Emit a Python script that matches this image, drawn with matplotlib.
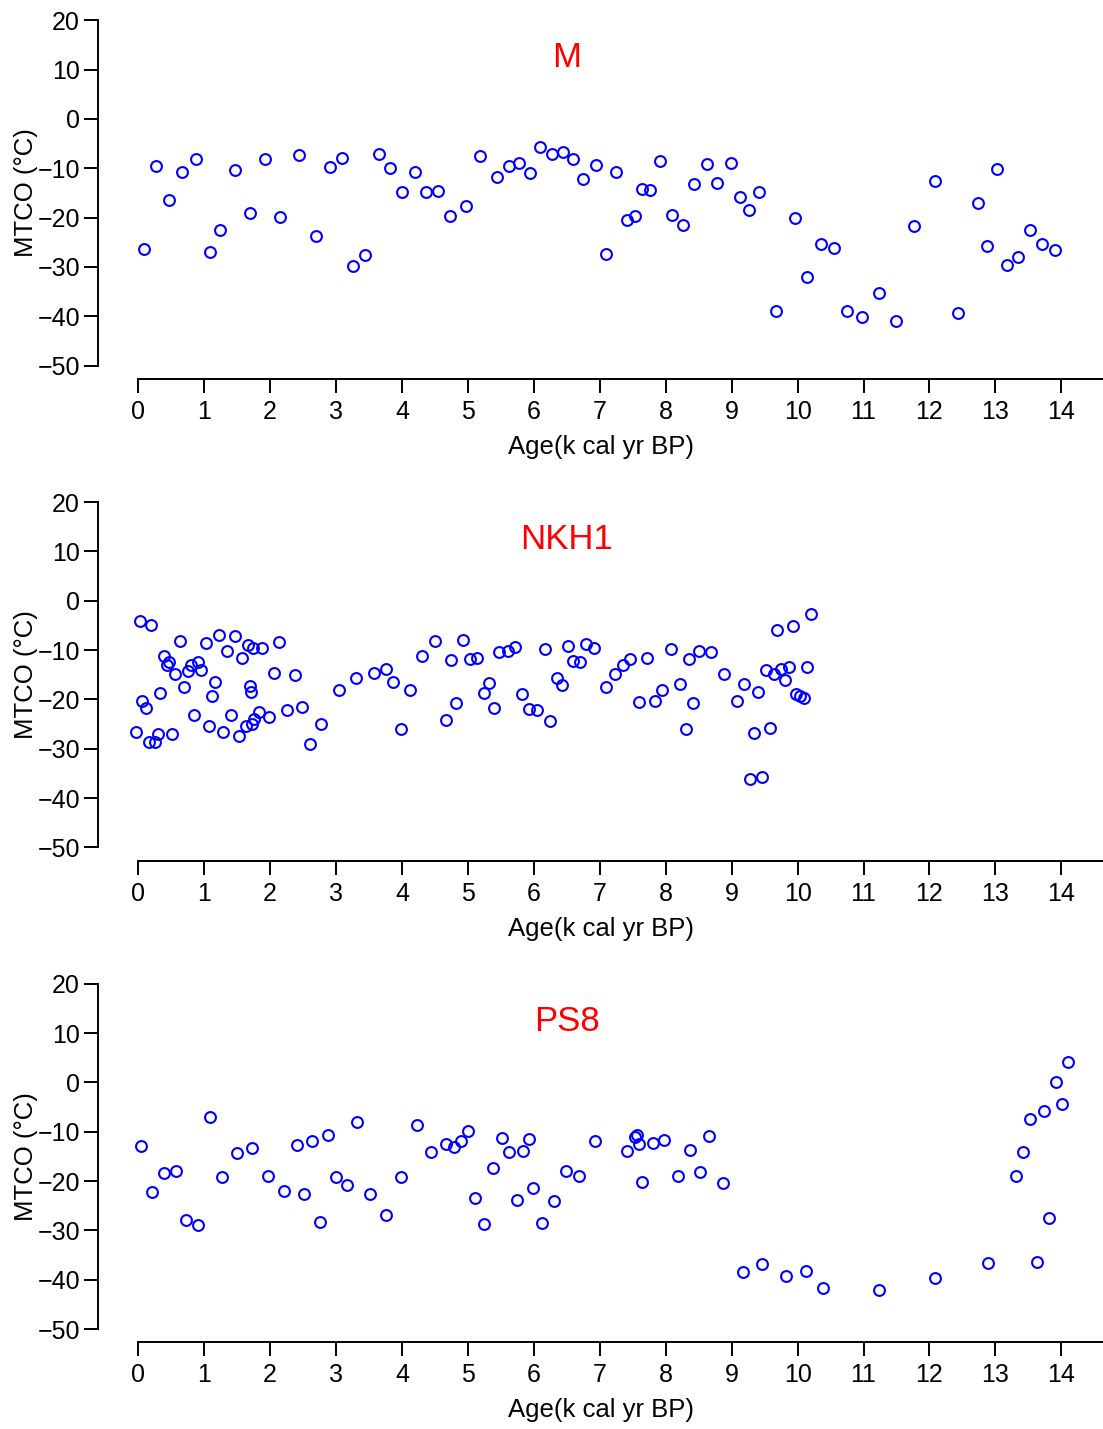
import matplotlib.pyplot as plt
import numpy as np

plt.rcParams['font.family'] = ['Liberation Sans', 'DejaVu Sans']

# ---- data (age in k cal yr BP, MTCO in deg C) ----
m_age = [0.08, 0.27, 0.47, 0.67, 0.87, 1.08, 1.24, 1.46, 1.69, 1.92, 2.15, 2.44,
         2.69, 2.91, 3.09, 3.26, 3.44, 3.65, 3.82, 4.00, 4.20, 4.37, 4.55, 4.73,
         4.97, 5.19, 5.44, 5.62, 5.78, 5.94, 6.10, 6.28, 6.44, 6.59, 6.75, 6.94,
         7.09, 7.25, 7.41, 7.53, 7.64, 7.76, 7.92, 8.09, 8.26, 8.43, 8.62, 8.78,
         8.99, 9.13, 9.27, 9.42, 9.67, 9.96, 10.15, 10.36, 10.55, 10.75, 10.97, 11.24,
         11.50, 11.76, 12.09, 12.43, 12.73, 12.88, 13.02, 13.17, 13.35, 13.53, 13.71, 13.90]
m_mtco = [-26.4, -9.5, -16.5, -10.7, -8.1, -27.0, -22.4, -10.3, -19.0, -8.1, -19.9, -7.3,
          -23.7, -9.8, -7.9, -29.8, -27.6, -7.0, -9.9, -14.8, -10.8, -14.9, -14.5, -19.7,
          -17.6, -7.6, -11.8, -9.6, -9.0, -11.0, -5.6, -7.1, -6.6, -8.1, -12.1, -9.3,
          -27.4, -10.7, -20.5, -19.7, -14.2, -14.3, -8.5, -19.4, -21.4, -13.2, -9.1, -12.9,
          -9.0, -15.9, -18.5, -14.9, -38.9, -20.1, -32.1, -25.4, -26.2, -38.9, -40.2, -35.3,
          -41.0, -21.6, -12.5, -39.3, -17.0, -25.7, -10.1, -29.5, -28.0, -22.5, -25.3, -26.6]

nkh1_age = [-0.03, 0.02, 0.06, 0.11, 0.16, 0.20, 0.26, 0.30, 0.33, 0.39, 0.43, 0.47,
            0.51, 0.56, 0.64, 0.70, 0.75, 0.80, 0.85, 0.91, 0.95, 1.02, 1.07, 1.12,
            1.17, 1.23, 1.29, 1.34, 1.41, 1.46, 1.52, 1.58, 1.63, 1.66, 1.69, 1.71,
            1.72, 1.74, 1.76, 1.83, 1.88, 1.98, 2.06, 2.14, 2.26, 2.38, 2.49, 2.61,
            2.77, 3.04, 3.30, 3.57, 3.75, 3.87, 3.99, 4.12, 4.31, 4.50, 4.67, 4.75,
            4.82, 4.93, 5.03, 5.14, 5.25, 5.32, 5.39, 5.47, 5.60, 5.72, 5.82, 5.92,
            6.05, 6.17, 6.25, 6.35, 6.43, 6.51, 6.60, 6.70, 6.79, 6.91, 7.09, 7.23,
            7.35, 7.46, 7.59, 7.71, 7.83, 7.94, 8.08, 8.21, 8.30, 8.36, 8.41, 8.50,
            8.69, 8.89, 9.08, 9.18, 9.28, 9.34, 9.40, 9.46, 9.52, 9.58, 9.64, 9.69,
            9.75, 9.81, 9.87, 9.93, 9.98, 10.03, 10.10, 10.14, 10.21]
nkh1_mtco = [-26.6, -4.2, -20.3, -21.8, -28.6, -5.0, -28.6, -27.1, -18.7, -11.2, -13.0, -12.4,
             -27.0, -14.9, -8.2, -17.4, -14.2, -13.1, -23.2, -12.4, -14.0, -8.6, -25.5, -19.3,
             -16.5, -7.0, -26.6, -10.1, -23.2, -7.2, -27.5, -11.6, -25.3, -8.9, -17.2, -18.6,
             -24.9, -9.5, -23.9, -22.6, -9.6, -23.6, -14.6, -8.3, -22.2, -15.1, -21.5, -29.0,
             -24.9, -18.2, -15.7, -14.7, -13.9, -16.5, -26.1, -18.2, -11.2, -8.2, -24.1, -12.0,
             -20.8, -7.9, -11.8, -11.6, -18.7, -16.6, -21.8, -10.4, -10.1, -9.3, -18.9, -22.0,
             -22.1, -9.7, -24.3, -15.7, -17.1, -9.1, -12.3, -12.4, -8.8, -9.5, -17.4, -14.8,
             -13.0, -11.8, -20.6, -11.7, -20.4, -18.2, -9.7, -16.8, -26.1, -11.8, -20.8, -10.1,
             -10.5, -14.9, -20.4, -16.9, -36.2, -26.8, -18.6, -35.8, -14.1, -25.9, -14.8, -5.9,
             -13.8, -16.0, -13.4, -5.2, -18.9, -19.3, -19.8, -13.4, -2.6]

ps8_age = [0.04, 0.21, 0.39, 0.57, 0.73, 0.91, 1.08, 1.27, 1.50, 1.73, 1.97, 2.21,
           2.40, 2.52, 2.64, 2.76, 2.88, 3.00, 3.16, 3.32, 3.52, 3.75, 3.98, 4.22,
           4.44, 4.67, 4.79, 4.90, 5.00, 5.11, 5.25, 5.38, 5.52, 5.63, 5.74, 5.84,
           5.92, 5.98, 6.12, 6.30, 6.48, 6.68, 6.93, 7.41, 7.54, 7.56, 7.59, 7.64,
           7.80, 7.98, 8.18, 8.37, 8.52, 8.66, 8.87, 9.17, 9.46, 9.82, 10.13, 10.39,
           11.23, 12.09, 12.89, 13.32, 13.42, 13.53, 13.63, 13.73, 13.82, 13.92, 14.01, 14.10]
ps8_mtco = [-12.9, -22.3, -18.3, -17.9, -27.8, -28.9, -7.0, -19.1, -14.3, -13.4, -18.9, -22.0,
            -12.7, -22.7, -11.9, -28.2, -10.6, -19.2, -20.8, -8.1, -22.6, -26.8, -19.1, -8.7,
            -14.2, -12.5, -13.1, -11.8, -9.9, -23.5, -28.8, -17.3, -11.3, -14.2, -23.8, -14.0,
            -11.5, -21.4, -28.5, -24.1, -17.9, -19.0, -11.8, -13.9, -11.1, -10.6, -12.5, -20.2,
            -12.2, -11.6, -19.0, -13.8, -18.2, -10.8, -20.4, -38.4, -36.8, -39.2, -38.3, -41.7,
            -42.1, -39.7, -36.6, -19.0, -14.1, -7.4, -36.4, -5.7, -27.4, 0.0, -4.3, 4.2]

sites = ['M', 'NKH1', 'PS8']
ages = [m_age, nkh1_age, ps8_age]
mtco = [m_mtco, nkh1_mtco, ps8_mtco]

x_ticks = np.arange(0, 15)
y_ticks = np.arange(-50, 21, 10)

# figure geometry in pixels
W, H = 1103, 1429
x0_px, x_scale = 138.3, 65.93      # pixel of age 0, pixels per kyr
y20_px, y_scale = 20.3, 4.934      # pixel of 20 degC, pixels per degC
step = 481.7                       # vertical offset between panels
left_px, top_px, bottom_px = 98, 5, 379

fig = plt.figure(figsize=(W / 100, H / 100), dpi=100)
fig.patch.set_facecolor('white')

for i, (site, age, vals) in enumerate(zip(sites, ages, mtco)):
    off = i * step
    ax = fig.add_axes([left_px / W, 1 - (bottom_px + off) / H,
                       (W - left_px) / W, (bottom_px - top_px) / H])
    xmin = (left_px - x0_px) / x_scale
    xmax = (W - x0_px) / x_scale
    ax.set_xlim(xmin, xmax)
    ax.set_ylim(20 - (bottom_px - y20_px) / y_scale, 20 + (y20_px - top_px) / y_scale)

    ax.plot(age, vals, 'o', mfc='none', mec='blue', ms=7.8, mew=1.5, clip_on=False)

    for s in ['top', 'right']:
        ax.spines[s].set_visible(False)
    for s in ['left', 'bottom']:
        ax.spines[s].set_linewidth(1.4)
    ax.spines['left'].set_bounds(-50, 20)
    ax.spines['bottom'].set_bounds(0, xmax)

    ax.set_xticks(x_ticks)
    ax.set_yticks(y_ticks)
    ax.tick_params(direction='out', length=10, width=1.4, labelsize=18)
    ax.tick_params(axis='y', pad=3)
    ax.tick_params(axis='x', pad=5)

    ax.text(6.5, 12.4, site, color='red', fontsize=25, ha='center', va='center')
    ax.text(0.5, (bottom_px - 447) / (bottom_px - top_px), 'Age(k cal yr BP)',
            transform=ax.transAxes, ha='center', va='center', fontsize=18.5)
    ax.text((26 - left_px) / (W - left_px), (bottom_px - 193) / (bottom_px - top_px),
            'MTCO (°C)', transform=ax.transAxes, rotation=90,
            ha='center', va='center', fontsize=18.5)

fig.savefig('out.png', dpi=100, facecolor='white')
